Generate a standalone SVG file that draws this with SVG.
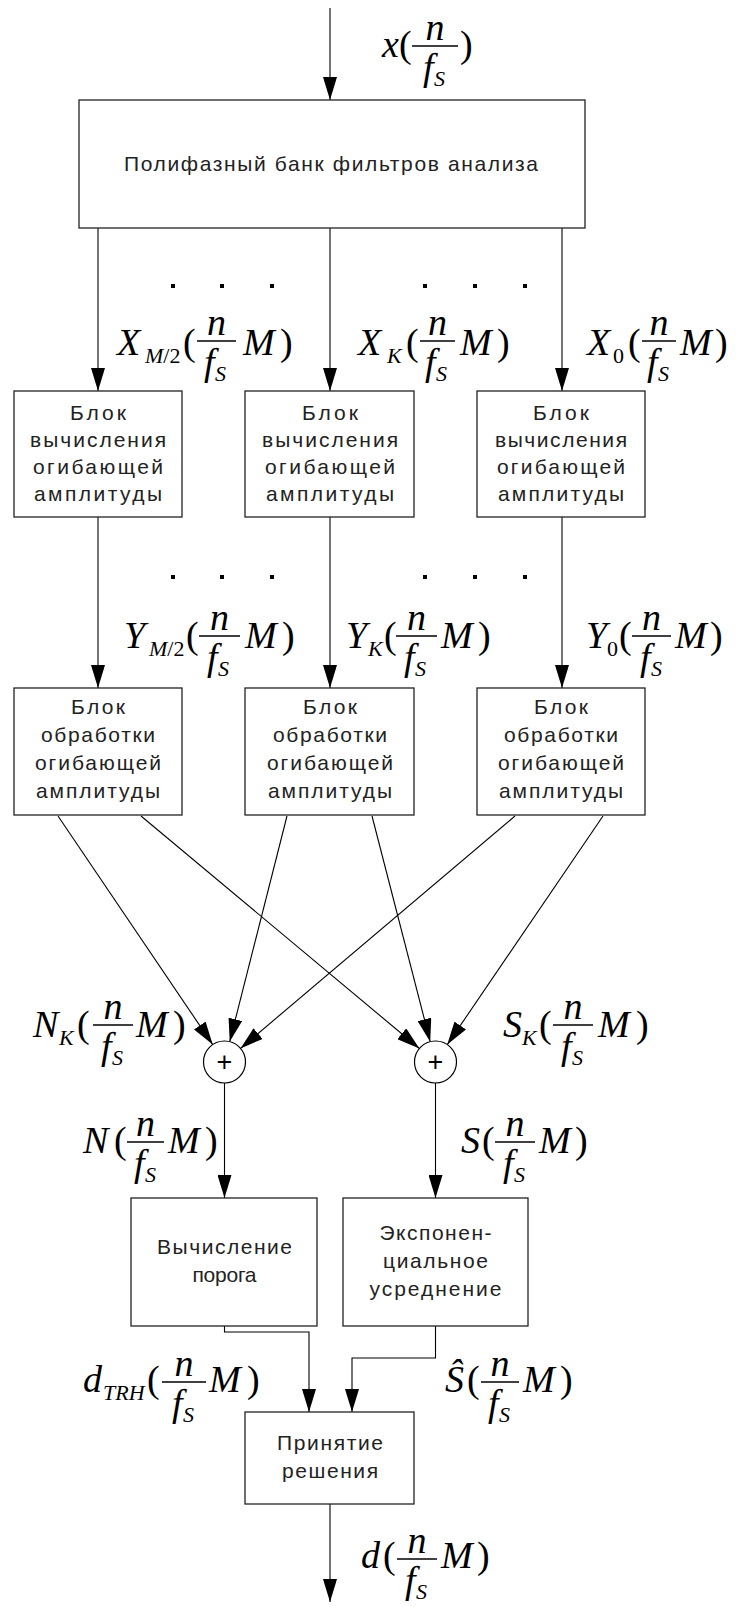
<svg xmlns="http://www.w3.org/2000/svg" width="736" height="1607" viewBox="0 0 736 1607">
<style>
.box{fill:#fff;stroke:#222;stroke-width:1.3}
.t{font-family:"Liberation Sans",Arial,sans-serif;font-size:21px;text-anchor:middle;fill:#222}
.m{font-family:"Liberation Serif","Times New Roman",serif;font-style:italic;font-size:38px;fill:#000}
.s{font-family:"Liberation Serif","Times New Roman",serif;font-style:italic;font-size:22px;fill:#000}
.u{font-style:normal}
.c{text-anchor:middle}
.fr{stroke:#000;stroke-width:1.4}
.cn{stroke:#000;stroke-width:1.1;fill:none}
.dot{fill:#000}
.plus{font-family:"Liberation Sans",Arial,sans-serif;font-size:27px;text-anchor:middle;fill:#000}
</style>
<defs>
<marker id="ah" markerUnits="userSpaceOnUse" markerWidth="24" markerHeight="14" refX="23" refY="7" orient="auto">
<path d="M0,0 L23,7 L0,14 z" fill="#000"/>
</marker>
</defs>

<g id="connectors">
<path class="cn" d="M330,8 V100" marker-end="url(#ah)"/>
<path class="cn" d="M98,228 V391" marker-end="url(#ah)"/>
<path class="cn" d="M330,228 V391" marker-end="url(#ah)"/>
<path class="cn" d="M562,228 V391" marker-end="url(#ah)"/>
<path class="cn" d="M98,517 V688" marker-end="url(#ah)"/>
<path class="cn" d="M330,517 V688" marker-end="url(#ah)"/>
<path class="cn" d="M562,517 V688" marker-end="url(#ah)"/>
<path class="cn" d="M58,816 L212.7,1044.6" marker-end="url(#ah)"/>
<path class="cn" d="M287,816 L229.7,1041.7" marker-end="url(#ah)"/>
<path class="cn" d="M515,816 L240.5,1048.4" marker-end="url(#ah)"/>
<path class="cn" d="M141,816 L419.4,1048.5" marker-end="url(#ah)"/>
<path class="cn" d="M372,816 L430.2,1041.7" marker-end="url(#ah)"/>
<path class="cn" d="M603,816 L447.3,1044.6" marker-end="url(#ah)"/>
<path class="cn" d="M224.5,1083 V1198" marker-end="url(#ah)"/>
<path class="cn" d="M435.5,1083 V1198" marker-end="url(#ah)"/>
<path class="cn" d="M224.5,1326 V1332 H309 V1412" marker-end="url(#ah)"/>
<path class="cn" d="M435.5,1326 V1358 H352 V1412" marker-end="url(#ah)"/>
<path class="cn" d="M330,1504 V1602" marker-end="url(#ah)"/>
</g>

<g id="dots">
<rect class="dot" x="171" y="284" width="4" height="4"/>
<rect class="dot" x="220" y="284" width="4" height="4"/>
<rect class="dot" x="270" y="284" width="4" height="4"/>
<rect class="dot" x="423" y="284" width="4" height="4"/>
<rect class="dot" x="473" y="284" width="4" height="4"/>
<rect class="dot" x="523" y="284" width="4" height="4"/>
<rect class="dot" x="171" y="575" width="4" height="4"/>
<rect class="dot" x="220" y="575" width="4" height="4"/>
<rect class="dot" x="270" y="575" width="4" height="4"/>
<rect class="dot" x="423" y="575" width="4" height="4"/>
<rect class="dot" x="473" y="575" width="4" height="4"/>
<rect class="dot" x="523" y="575" width="4" height="4"/>
</g>

<g id="filterbank">
<rect class="box" x="79" y="100" width="506" height="128"/>
<text class="t" x="331" y="171" font-size="23" textLength="414" lengthAdjust="spacing">Полифазный банк фильтров анализа</text>
</g>

<g id="env1">
<rect class="box" x="14" y="391" width="168" height="126"/>
<text class="t" x="98" y="420" textLength="56" lengthAdjust="spacing">Блок</text>
<text class="t" x="98" y="447" textLength="136" lengthAdjust="spacing">вычисления</text>
<text class="t" x="98" y="474" textLength="130" lengthAdjust="spacing">огибающей</text>
<text class="t" x="98" y="501" textLength="128" lengthAdjust="spacing">амплитуды</text>
</g>
<g id="env2">
<rect class="box" x="245" y="391" width="169" height="126"/>
<text class="t" x="330" y="420" textLength="56" lengthAdjust="spacing">Блок</text>
<text class="t" x="330" y="447" textLength="136" lengthAdjust="spacing">вычисления</text>
<text class="t" x="330" y="474" textLength="130" lengthAdjust="spacing">огибающей</text>
<text class="t" x="330" y="501" textLength="128" lengthAdjust="spacing">амплитуды</text>
</g>
<g id="env3">
<rect class="box" x="477" y="391" width="168" height="126"/>
<text class="t" x="561" y="420" textLength="56" lengthAdjust="spacing">Блок</text>
<text class="t" x="561" y="447" textLength="132" lengthAdjust="spacing">вычисления</text>
<text class="t" x="561" y="474" textLength="128" lengthAdjust="spacing">огибающей</text>
<text class="t" x="561" y="501" textLength="126" lengthAdjust="spacing">амплитуды</text>
</g>

<g id="proc1">
<rect class="box" x="14" y="688" width="168" height="127"/>
<text class="t" x="98" y="714" textLength="54" lengthAdjust="spacing">Блок</text>
<text class="t" x="98" y="742" textLength="114" lengthAdjust="spacing">обработки</text>
<text class="t" x="98" y="770" textLength="126" lengthAdjust="spacing">огибающей</text>
<text class="t" x="98" y="798" textLength="124" lengthAdjust="spacing">амплитуды</text>
</g>
<g id="proc2">
<rect class="box" x="245" y="688" width="169" height="127"/>
<text class="t" x="330" y="714" textLength="54" lengthAdjust="spacing">Блок</text>
<text class="t" x="330" y="742" textLength="114" lengthAdjust="spacing">обработки</text>
<text class="t" x="330" y="770" textLength="126" lengthAdjust="spacing">огибающей</text>
<text class="t" x="330" y="798" textLength="124" lengthAdjust="spacing">амплитуды</text>
</g>
<g id="proc3">
<rect class="box" x="477" y="688" width="168" height="127"/>
<text class="t" x="561" y="714" textLength="54" lengthAdjust="spacing">Блок</text>
<text class="t" x="561" y="742" textLength="114" lengthAdjust="spacing">обработки</text>
<text class="t" x="561" y="770" textLength="126" lengthAdjust="spacing">огибающей</text>
<text class="t" x="561" y="798" textLength="124" lengthAdjust="spacing">амплитуды</text>
</g>

<g id="sum1">
<circle cx="224.5" cy="1062" r="21" fill="#fff" stroke="#000" stroke-width="1.2"/>
<text class="plus" x="224.5" y="1071">+</text>
</g>
<g id="sum2">
<circle cx="435.5" cy="1062" r="21" fill="#fff" stroke="#000" stroke-width="1.2"/>
<text class="plus" x="435.5" y="1071">+</text>
</g>

<g id="threshold">
<rect class="box" x="131" y="1198" width="186" height="128"/>
<text class="t" x="224.5" y="1254" textLength="135" lengthAdjust="spacing">Вычисление</text>
<text class="t" x="224.5" y="1282" textLength="64" lengthAdjust="spacing">порога</text>
</g>
<g id="expavg">
<rect class="box" x="343" y="1198" width="185" height="128"/>
<text class="t" x="435.5" y="1240" textLength="112" lengthAdjust="spacing">Экспонен-</text>
<text class="t" x="435.5" y="1268" textLength="105" lengthAdjust="spacing">циальное</text>
<text class="t" x="435.5" y="1296" textLength="132" lengthAdjust="spacing">усреднение</text>
</g>
<g id="decision">
<rect class="box" x="245" y="1412" width="169" height="92"/>
<text class="t" x="330" y="1450" textLength="106" lengthAdjust="spacing">Принятие</text>
<text class="t" x="330" y="1478" textLength="96" lengthAdjust="spacing">решения</text>
</g>

<g id="labels">
<g id="lx">
<text class="m" x="382" y="57">x</text><text class="m u" x="399" y="57">(</text>
<line class="fr" x1="412" y1="46" x2="458" y2="46"/>
<text class="m c" x="435" y="40">n</text>
<text class="m" x="423" y="80">f</text><text class="s" x="434" y="86">S</text>
<text class="m u" x="460" y="57">)</text>
</g>
<g id="lX2">
<text class="m" x="117" y="355">X</text><text class="s" x="145" y="363">M<tspan class="u">/2</tspan></text>
<text class="m u" x="183" y="355">(</text>
<line class="fr" x1="197" y1="341" x2="236" y2="341"/>
<text class="m c" x="216.5" y="335">n</text>
<text class="m" x="204" y="375">f</text><text class="s" x="215" y="381">S</text>
<text class="m" x="243" y="355">M</text><text class="m u" x="280" y="355">)</text>
</g>
<g id="lXK">
<text class="m" x="358" y="355">X</text><text class="s" x="387" y="363">K</text>
<text class="m u" x="406" y="355">(</text>
<line class="fr" x1="420" y1="341" x2="455" y2="341"/>
<text class="m c" x="437.5" y="335">n</text>
<text class="m" x="425" y="375">f</text><text class="s" x="436" y="381">S</text>
<text class="m" x="460" y="355">M</text><text class="m u" x="497" y="355">)</text>
</g>
<g id="lX0">
<text class="m" x="587" y="355">X</text><text class="s u" x="613" y="363">0</text>
<text class="m u" x="628" y="355">(</text>
<line class="fr" x1="642" y1="341" x2="676" y2="341"/>
<text class="m c" x="659" y="335">n</text>
<text class="m" x="647" y="375">f</text><text class="s" x="658" y="381">S</text>
<text class="m" x="680" y="355">M</text><text class="m u" x="715" y="355">)</text>
</g>
<g id="lY2">
<text class="m" x="124" y="648">Y</text><text class="s" x="149" y="656">M<tspan class="u">/2</tspan></text>
<text class="m u" x="186" y="648">(</text>
<line class="fr" x1="199" y1="636" x2="240" y2="636"/>
<text class="m c" x="219.5" y="630">n</text>
<text class="m" x="207" y="670">f</text><text class="s" x="218" y="676">S</text>
<text class="m" x="245" y="648">M</text><text class="m u" x="282" y="648">)</text>
</g>
<g id="lYK">
<text class="m" x="346" y="648">Y</text><text class="s" x="368" y="656">K</text>
<text class="m u" x="384" y="648">(</text>
<line class="fr" x1="396" y1="636" x2="437" y2="636"/>
<text class="m c" x="416.5" y="630">n</text>
<text class="m" x="404" y="670">f</text><text class="s" x="415" y="676">S</text>
<text class="m" x="441" y="648">M</text><text class="m u" x="478" y="648">)</text>
</g>
<g id="lY0">
<text class="m" x="586" y="648">Y</text><text class="s u" x="607" y="656">0</text>
<text class="m u" x="619" y="648">(</text>
<line class="fr" x1="632" y1="636" x2="671" y2="636"/>
<text class="m c" x="651.5" y="630">n</text>
<text class="m" x="640" y="670">f</text><text class="s" x="651" y="676">S</text>
<text class="m" x="675" y="648">M</text><text class="m u" x="710" y="648">)</text>
</g>
<g id="lNK">
<text class="m" x="33" y="1037">N</text><text class="s" x="59" y="1045">K</text>
<text class="m u" x="77" y="1037">(</text>
<line class="fr" x1="93" y1="1025" x2="133" y2="1025"/>
<text class="m c" x="113" y="1019">n</text>
<text class="m" x="101" y="1059">f</text><text class="s" x="112" y="1065">S</text>
<text class="m" x="136" y="1037">M</text><text class="m u" x="173" y="1037">)</text>
</g>
<g id="lSK">
<text class="m" x="503" y="1037">S</text><text class="s" x="522" y="1045">K</text>
<text class="m u" x="539" y="1037">(</text>
<line class="fr" x1="553" y1="1025" x2="593" y2="1025"/>
<text class="m c" x="573" y="1019">n</text>
<text class="m" x="561" y="1059">f</text><text class="s" x="572" y="1065">S</text>
<text class="m" x="598" y="1037">M</text><text class="m u" x="636" y="1037">)</text>
</g>
<g id="lN">
<text class="m" x="83" y="1153">N</text>
<text class="m u" x="114" y="1153">(</text>
<line class="fr" x1="127" y1="1142" x2="164" y2="1142"/>
<text class="m c" x="145.5" y="1136">n</text>
<text class="m" x="134" y="1176">f</text><text class="s" x="145" y="1182">S</text>
<text class="m" x="168" y="1153">M</text><text class="m u" x="205" y="1153">)</text>
</g>
<g id="lS">
<text class="m" x="461" y="1153">S</text>
<text class="m u" x="482" y="1153">(</text>
<line class="fr" x1="495" y1="1142" x2="535" y2="1142"/>
<text class="m c" x="515" y="1136">n</text>
<text class="m" x="503" y="1176">f</text><text class="s" x="514" y="1182">S</text>
<text class="m" x="539" y="1153">M</text><text class="m u" x="575" y="1153">)</text>
</g>
<g id="ldTRH">
<text class="m" x="83" y="1392">d</text><text class="s" x="103" y="1400">TRH</text>
<text class="m u" x="147" y="1392">(</text>
<line class="fr" x1="162" y1="1382" x2="206" y2="1382"/>
<text class="m c" x="184" y="1376">n</text>
<text class="m" x="172" y="1416">f</text><text class="s" x="183" y="1422">S</text>
<text class="m" x="209" y="1392">M</text><text class="m u" x="247" y="1392">)</text>
</g>
<g id="lShat">
<text class="m" x="445" y="1392">Ŝ</text>
<text class="m u" x="467" y="1392">(</text>
<line class="fr" x1="481" y1="1382" x2="519" y2="1382"/>
<text class="m c" x="500" y="1376">n</text>
<text class="m" x="488" y="1416">f</text><text class="s" x="499" y="1422">S</text>
<text class="m" x="523" y="1392">M</text><text class="m u" x="560" y="1392">)</text>
</g>
<g id="ld">
<text class="m" x="361" y="1568">d</text>
<text class="m u" x="383" y="1568">(</text>
<line class="fr" x1="397" y1="1559" x2="437" y2="1559"/>
<text class="m c" x="417" y="1553">n</text>
<text class="m" x="405" y="1593">f</text><text class="s" x="416" y="1599">S</text>
<text class="m" x="441" y="1568">M</text><text class="m u" x="477" y="1568">)</text>
</g>
</g>
</svg>
